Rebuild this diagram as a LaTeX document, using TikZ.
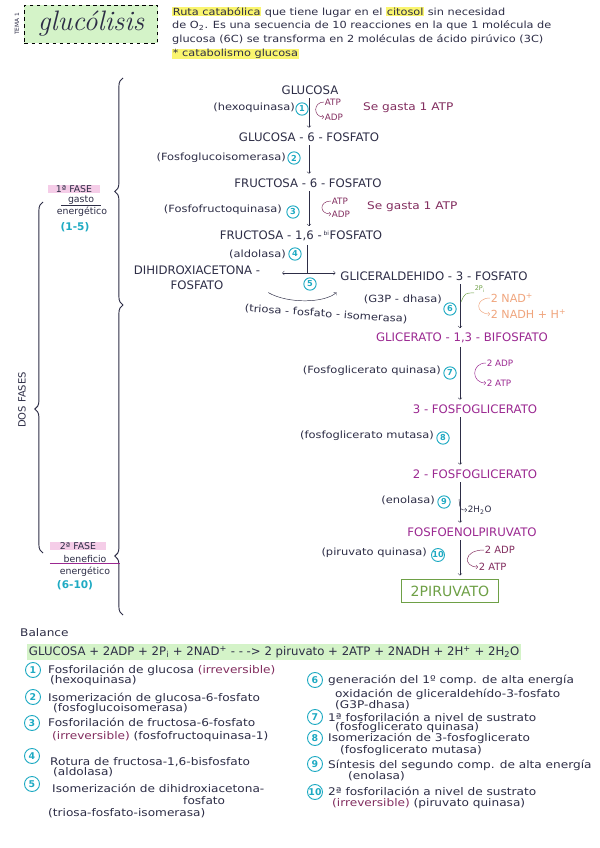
\documentclass[tikz,border=0pt]{standalone}
\usepackage{fontspec}
\setsansfont{DejaVu Sans}
\newfontfamily\mano{DejaVu Sans}[FakeStretch=1.15]
\renewcommand{\familydefault}{\sfdefault}
\usetikzlibrary{decorations.pathreplacing}
\definecolor{tinta}{RGB}{45,45,70}
\definecolor{turquesa}{RGB}{30,170,195}
\definecolor{morado}{RGB}{155,40,145}
\definecolor{vino}{RGB}{130,45,95}
\definecolor{naranja}{RGB}{240,165,125}
\definecolor{verdeoscuro}{RGB}{110,160,70}
\definecolor{verdeclaro}{RGB}{212,243,200}
\definecolor{amarillo}{RGB}{250,245,110}
\definecolor{rosa}{RGB}{245,205,232}
\newcommand{\marca}[1]{{\setlength{\fboxsep}{0.6pt}\colorbox{amarillo}{#1}}}
\tikzset{
  metabolito/.style={font=\fontsize{10}{13}\selectfont, text=tinta, inner sep=1pt},
  enzima/.style={font=\mano\fontsize{8.5}{10}\selectfont, text=tinta, inner sep=0pt},
  nota/.style={font=\mano\fontsize{9}{11}\selectfont, text=tinta, inner sep=0pt, anchor=west},
  cabecera/.style={nota, font=\mano\fontsize{8.4}{10}\selectfont},
  lateral/.style={font=\fontsize{7.5}{9}\selectfont, inner sep=0.5pt, anchor=west},
  paso/.style={circle, draw=turquesa, text=turquesa, line width=0.8pt, inner sep=0pt, minimum size=0.37cm, font=\fontsize{7}{8}\selectfont\bfseries},
  pasog/.style={paso, minimum size=0.45cm, font=\fontsize{8}{9}\selectfont\bfseries},
  flecha/.style={->, tinta, shorten <=2pt, shorten >=3pt},
  fase/.style={font=\fontsize{8}{9}\selectfont, text=tinta, inner sep=0.5pt},
  titulo/.style={draw=black, dashed, thick, fill=verdeclaro, minimum width=3.99cm, minimum height=1.14cm, font=\rmfamily\itshape\fontsize{24}{26}\selectfont, text=tinta},
}
\begin{document}
\begin{tikzpicture}[x=0.03cm, y=-0.03cm]
\fill[white] (0,0) rectangle (600,848);
\path[use as bounding box] (0,0) rectangle (600,848);

\node[rotate=90, font=\fontsize{5}{6}\selectfont, text=tinta] (tema) at (17,24) {TEMA 1};
\node[titulo] (titulo) at (91,24) {glucólisis};
\node[cabecera] (def1) at (172,12) {\marca{Ruta catabólica} que tiene lugar en el \marca{citosol} sin necesidad};
\node[cabecera] (def2) at (172,26) {de O\textsubscript{2}. Es una secuencia de 10 reacciones en la que 1 molécula de};
\node[cabecera] (def3) at (172,40) {glucosa (6C) se transforma en 2 moléculas de ácido pirúvico (3C)};
\node[cabecera] (def4) at (172,54) {\marca{* catabolismo glucosa}};

\node[metabolito] (glc) at (310,90) {GLUCOSA};
\node[metabolito] (g6p) at (309,137) {GLUCOSA - 6 - FOSFATO};
\node[metabolito] (f6p) at (308,183) {FRUCTOSA - 6 - FOSFATO};
\node[metabolito] (f16bp) at (301,236) {FRUCTOSA - 1,6 -\,\textsuperscript{\tiny bi}FOSFATO};
\node[metabolito, align=center] (dhap) at (197,278) {DIHIDROXIACETONA -\\FOSFATO};
\node[metabolito] (g3p) at (434,276) {GLICERALDEHIDO - 3 - FOSFATO};
\node[metabolito, text=morado] (bpg) at (462,338) {GLICERATO - 1,3 - BIFOSFATO};
\node[metabolito, text=morado] (pg3) at (475,409) {3 - FOSFOGLICERATO};
\node[metabolito, text=morado] (pg2) at (475,474) {2 - FOSFOGLICERATO};
\node[metabolito, text=morado] (pep) at (472,532) {FOSFOENOLPIRUVATO};
\node[draw=verdeoscuro, thick, text=verdeoscuro, font=\fontsize{12}{14}\selectfont, minimum width=2.9cm, minimum height=0.69cm] (pir) at (450,591) {2PIRUVATO};

\coordinate (eje1) at (309,0);
\coordinate (eje2) at (460,0);
\coordinate (cruce) at (307,273);
\draw[flecha] (glc.south -| eje1) -- (g6p.north -| eje1);
\draw[flecha] (g6p.south -| eje1) -- (f6p.north -| eje1);
\draw[flecha] (f6p.south -| eje1) -- (f16bp.north -| eje1);
\draw[tinta, shorten <=2pt] (f16bp.south -| cruce) -- (cruce);
\draw[tinta, <->, shorten <=0.62cm, shorten >=3pt] (dhap.east |- cruce) -- (g3p.west |- cruce);
\draw[flecha] ([xshift=4pt]dhap.south east) .. controls (288,304) and (325,303) .. ([yshift=-7pt]g3p.south west);
\draw[flecha] (g3p.south -| eje2) -- (bpg.north -| eje2);
\draw[flecha] (bpg.south -| eje2) -- (pg3.north -| eje2);
\draw[flecha] (pg3.south -| eje2) -- (pg2.north -| eje2);
\draw[flecha] (pg2.south -| eje2) -- (pep.north -| eje2);
\draw[flecha] (pep.south -| eje2) -- (pir.north -| eje2);

\node[enzima, anchor=east] (hk) at (295,108) {(hexoquinasa)};
\node[paso] (p1) at (302,109) {1};
\node[enzima, anchor=east] (pgi) at (286,158) {(Fosfoglucoisomerasa)};
\node[paso] (p2) at (294,158) {2};
\node[enzima, anchor=east] (pfk) at (282,210) {(Fosfofructoquinasa)};
\node[paso] (p3) at (293,212) {3};
\node[enzima, anchor=east] (ald) at (286,254) {(aldolasa)};
\node[paso] (p4) at (295,254) {4};
\node[paso] (p5) at (310,284) {5};
\node[enzima, rotate=-4] (tpi) at (326,314) {(triosa - fosfato - isomerasa)};
\node[enzima, anchor=east] (gapdh) at (442,299) {(G3P - dhasa)};
\node[paso] (p6) at (450,309) {6};
\node[enzima, anchor=east] (pgk) at (441,371) {(Fosfoglicerato quinasa)};
\node[paso] (p7) at (450,373) {7};
\node[enzima, anchor=east] (pgm) at (434,436) {(fosfoglicerato mutasa)};
\node[paso] (p8) at (443,438) {8};
\node[enzima, anchor=east] (eno) at (435,500) {(enolasa)};
\node[paso] (p9) at (444,502) {9};
\node[enzima, anchor=east] (pk) at (427,553) {(piruvato quinasa)};
\node[paso] (p10) at (438,555) {10};

\node[lateral, text=vino] (atp1) at (324,102) {ATP};
\node[lateral, text=vino] (adp1) at (324,117) {ADP};
\draw[vino, ->] (atp1.west) .. controls (313,102) and (313,117) .. (adp1.west);
\node[nota, text=vino] (gasto1) at (363,108) {Se gasta 1 ATP};
\node[lateral, text=vino] (atp3) at (331,201) {ATP};
\node[lateral, text=vino] (adp3) at (331,214) {ADP};
\draw[vino, ->] (atp3.west) .. controls (319,201) and (319,214) .. (adp3.west);
\node[nota, text=vino] (gasto3) at (367,207) {Se gasta 1 ATP};
\node[lateral, text=verdeoscuro, font=\fontsize{5.5}{6}\selectfont] (pi6) at (474,289) {2P\textsubscript{i}};
\coordinate (entra6) at (461,302);
\draw[verdeoscuro] (pi6.south west) .. controls (465,293) .. (entra6);
\node[lateral, text=naranja, font=\fontsize{9.5}{11}\selectfont] (nad) at (490,298) {2 NAD\textsuperscript{+}};
\node[lateral, text=naranja, font=\fontsize{9.5}{11}\selectfont] (nadh) at (490,314) {2 NADH + H\textsuperscript{+}};
\draw[naranja, ->] (nad.west) .. controls (475,298) and (475,314) .. (nadh.west);
\node[lateral, text=morado] (adp7) at (486,363) {2 ADP};
\node[lateral, text=morado] (atp7) at (486,383) {2 ATP};
\draw[morado, ->] (adp7.west) .. controls (471,363) and (471,383) .. (atp7.west);
\coordinate (sale9) at (459,499);
\node[lateral, text=tinta] (agua) at (467,510) {2H\textsubscript{2}O};
\draw[tinta, ->] (sale9) .. controls (460,510) .. (agua.west);
\node[lateral, text=vino, font=\fontsize{8.5}{10}\selectfont] (adp10) at (484,550) {2 ADP};
\node[lateral, text=vino, font=\fontsize{8.5}{10}\selectfont] (atp10) at (478,567) {2 ATP};
\draw[vino, ->] (adp10.west) .. controls (463,550) and (463,567) .. (atp10.west);

\draw[tinta, thick, decorate, decoration={brace, amplitude=7pt, aspect=0.5}] (123,305) -- (123,78);
\draw[tinta, thick, decorate, decoration={brace, amplitude=7pt, aspect=0.19}] (123,615) -- (123,305);
\draw[tinta, thick, decorate, decoration={brace, amplitude=7pt, aspect=0.41}] (43,553) -- (43,202);
\node[rotate=90, font=\fontsize{8.5}{10}\selectfont, text=tinta] (dos) at (22,400) {DOS FASES};

\node[fase, fill=rosa, minimum width=1.55cm] (fase1) at (74,189) {1ª FASE};
\node[fase, minimum width=1.2cm] (gasto) at (81,200) {gasto};
\draw[tinta] (gasto.south west) -- (gasto.south east);
\node[fase] (energ1) at (82,212) {energético};
\node[fase, text=turquesa, font=\fontsize{9}{10}\selectfont\bfseries] (rango1) at (75,227) {(1-5)};
\node[fase, fill=rosa, minimum width=1.65cm] (fase2) at (78,546) {2ª FASE};
\node[fase, minimum width=2.1cm] (benef) at (85,559) {beneficio};
\draw[morado, thick] (benef.south west) -- (benef.south east);
\node[fase] (energ2) at (85,572) {energético};
\node[fase, text=turquesa, font=\fontsize{9}{10}\selectfont\bfseries] (rango2) at (75,585) {(6-10)};

\node[nota] (bal) at (20,633) {Balance};
\node[nota, font=\fontsize{10}{12}\selectfont, fill=verdeclaro, inner sep=1.5pt] (ec) at (27,652) {GLUCOSA + 2ADP + 2P\textsubscript{i} + 2NAD\textsuperscript{+} - - -> 2 piruvato + 2ATP + 2NADH + 2H\textsuperscript{+} + 2H\textsubscript{2}O};

\node[pasog] (n1) at (33,670) {1};
\node[nota] (l1a) at (48,670) {Fosforilación de glucosa {\color{vino}(irreversible)}};
\node[nota] (l1b) at (50,681) {(hexoquinasa)};
\node[pasog] (n2) at (33,697) {2};
\node[nota] (l2a) at (48,698) {Isomerización de glucosa-6-fosfato};
\node[nota] (l2b) at (53,709) {(fosfoglucoisomerasa)};
\node[pasog] (n3) at (32,723) {3};
\node[nota] (l3a) at (48,722) {Fosforilación de fructosa-6-fosfato};
\node[nota] (l3b) at (52,737) {{\color{vino}(irreversible)} (fosfofructoquinasa-1)};
\node[pasog] (n4) at (32,756) {4};
\node[nota] (l4a) at (50,762) {Rotura de fructosa-1,6-bisfosfato};
\node[nota] (l4b) at (53,772) {(aldolasa)};
\node[pasog] (n5) at (32,784) {5};
\node[nota] (l5a) at (52,788) {Isomerización de dihidroxiacetona-};
\node[nota] (l5b) at (183,801) {fosfato};
\node[nota] (l5c) at (48,813) {(triosa-fosfato-isomerasa)};

\node[pasog] (n6) at (315,680) {6};
\node[nota] (l6a) at (328,680) {generación del 1º comp. de alta energía};
\node[nota] (l6b) at (335,694) {oxidación de gliceraldehído-3-fosfato};
\node[nota] (l6c) at (335,705) {(G3P-dhasa)};
\node[pasog] (n7) at (315,717) {7};
\node[nota] (l7a) at (328,717) {1ª fosforilación a nivel de sustrato};
\node[nota] (l7b) at (335,728) {(fosfoglicerato quinasa)};
\node[pasog] (n8) at (315,738) {8};
\node[nota] (l8a) at (328,738) {Isomerización de 3-fosfoglicerato};
\node[nota] (l8b) at (340,751) {(fosfoglicerato mutasa)};
\node[pasog] (n9) at (315,764) {9};
\node[nota] (l9a) at (328,765) {Síntesis del segundo comp. de alta energía};
\node[nota] (l9b) at (348,776) {(enolasa)};
\node[pasog] (n10) at (315,792) {10};
\node[nota] (l10a) at (328,791) {2ª fosforilación a nivel de sustrato};
\node[nota] (l10b) at (332,804) {{\color{vino}(irreversible)} (piruvato quinasa)};
\end{tikzpicture}
\end{document}
